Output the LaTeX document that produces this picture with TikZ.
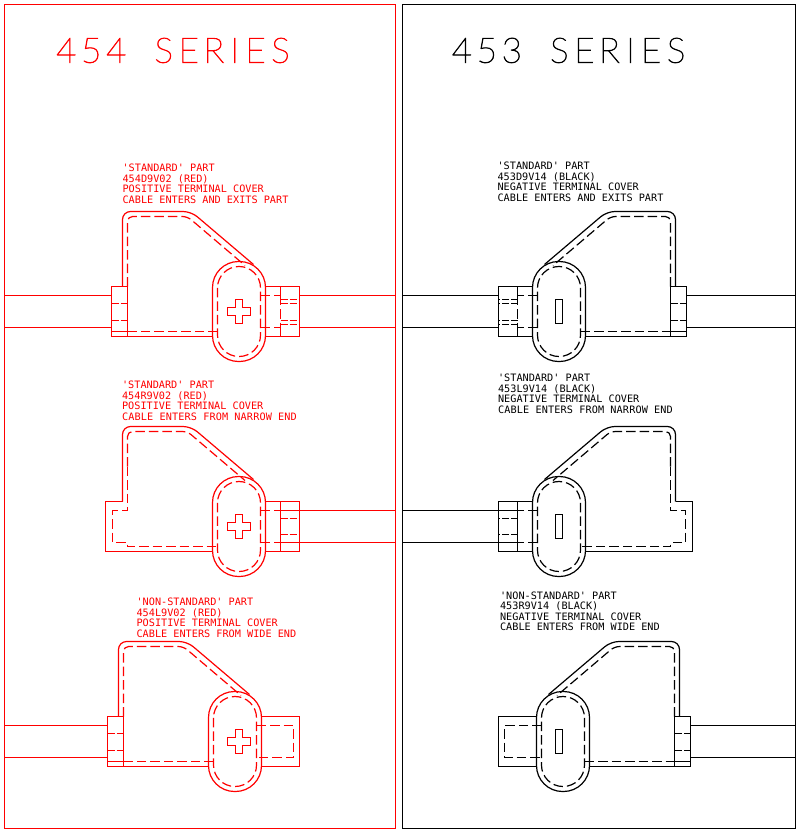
\documentclass[tikz,border=0pt]{standalone}
\usepackage{fontspec}
\newfontfamily\smallcad{DejaVu Sans Mono}
\newfontfamily\titlecad[FakeBold=2.2]{Lato Hairline}
\newcommand\TitleChar[1]{\makebox[25pt][l]{\makebox[18pt][c]{#1}}}
\newcommand\TitleNarrow[1]{\makebox[16.7pt][l]{\makebox[10pt][c]{#1}}}
\newcommand\WideLine[1]{{\addfontfeature{LetterSpace=1.2}#1}}
\newcommand\OvalAndBody{%
  \draw[rounded corners=26pt] (-26.5,-50) rectangle (26.5,50);
  \draw[hid,rounded corners=21.4pt] (-21.5,-45) rectangle (21.5,45);
  \draw[rounded corners=8pt] (-116.5,-25) -- (-116.5,-100) -- (-47.9,-100) -- (14.5,-47);
  \draw (-26.5,25) -- (-111.5,25);
}
% inner dashed outline of the body, down to the collar
\newcommand\InnerStraight{%
  \draw[hid,rounded corners=5pt] (-111.5,-25) -- (-111.5,-95) -- (-51.6,-95) -- (6,-46);
  \draw[hid] (-21.5,20) -- (-111.5,20);
}
\newcommand\LeftCollar{%
  \draw (-111.5,-25) rectangle (-127.5,25);
  \draw (-127.5,20) -- (-111.5,20);
  \draw[hidshort] (-127.5,-8) -- (-111.5,-8);
  \draw[hidshort] (-127.5,9) -- (-111.5,9);
}
\newcommand\LeftExtended{%
  \draw (-116.5,-25) -- (-133.5,-25) -- (-133.5,25) -- (-111.5,25);
  \draw[hid,rounded corners=5pt] (-111.5,-60) -- (-111.5,-95) -- (-51.6,-95) -- (6,-46);
  \draw[hid] (-111.5,-60) -- (-111.5,-16) -- (-126.5,-16) -- (-126.5,16) -- (-111.5,16) -- (-111.5,20) -- (-21.5,20);
}
\newcommand\RightCollarBoth{%
  \draw (26.5,-25) -- (60.5,-25) -- (60.5,25) -- (26.5,25);
  \draw (41.5,-25) -- (41.5,-16);
  \draw (41.5,16) -- (41.5,25);
  \draw[hid] (41.5,-16) -- (41.5,16);
  \draw[hid] (21.5,-16) -- (41.5,-16);
  \draw[hid] (21.5,16) -- (41.5,16);
  \draw[hidshort] (41.5,-12) -- (60.5,-12);
  \draw[hidshort] (41.5,-8) -- (60.5,-8);
  \draw[hidshort] (41.5,9) -- (60.5,9);
  \draw[hidshort] (41.5,13) -- (60.5,13);
}
\newcommand\RightCollarSingle{%
  \draw (26.5,-25) -- (60.5,-25) -- (60.5,25) -- (26.5,25);
  \draw (41.5,-25) -- (41.5,25);
  \draw[hid] (21.5,-16) -- (41.5,-16);
  \draw[hid] (21.5,16) -- (41.5,16);
  \draw (41.5,-16) -- (60.5,-16);
  \draw (41.5,16) -- (60.5,16);
  \draw[hidshort] (41.5,-8) -- (60.5,-8);
  \draw[hidshort] (41.5,8) -- (60.5,8);
}
\newcommand\RightBlank{%
  \draw (26.5,-25) -- (64.5,-25) -- (64.5,25) -- (26.5,25);
  \draw[hid] (21.5,-16) -- (58.5,-16) -- (58.5,16) -- (21.5,16);
}
\newcommand\CableFrom[2]{%
  \draw (#1,-16) -- (#2,-16);
  \draw (#1,16) -- (#2,16);
}
\newcommand\CrossMark[1]{%
  \draw[shift={(#1,0)}] (-3.5,-12) -- (3.5,-12) -- (3.5,-4) -- (11.5,-4) -- (11.5,4) -- (3.5,4) -- (3.5,12) -- (-3.5,12) -- (-3.5,4) -- (-11.5,4) -- (-11.5,-4) -- (-3.5,-4) -- cycle;
}
\newcommand\SlotMark[1]{%
  \draw[shift={(#1,0)}] (-3.5,-12) rectangle (3.5,12);
}
\begin{document}
\begin{tikzpicture}[x=1pt,y=-1pt,line width=1.2pt,line join=miter,
  hid/.style={dash pattern=on 9.5pt off 4pt},
  hidshort/.style={dash pattern=on 7pt off 2pt},
  lab/.style={anchor=north west,inner sep=0pt,align=left,
    font=\smallcad\fontsize{10.2}{10.5}\selectfont},
  ttl/.style={anchor=base west,inner sep=0pt,font=\titlecad\fontsize{35}{35}\selectfont}]
\useasboundingbox (0,0) rectangle (800,833);
\fill[white] (0,0) rectangle (800,833);

\begin{scope}[color=red]
  \draw (4.5,4.5) rectangle (395.5,828.5);
  \node[ttl,text=red] (t454) at (56.7,62.7) {\TitleChar{4}\TitleChar{5}\TitleChar{4}\makebox[22.5pt]{ }\TitleChar{S}\TitleChar{E}\TitleChar{R}\TitleNarrow{I}\TitleChar{E}\TitleChar{S}};
  \node[lab,text=red] (lab1) at (122,163.5) {'STANDARD' PART\\454D9V02 (RED)\\POSITIVE TERMINAL COVER\\CABLE ENTERS AND EXITS PART};
  \node[lab,text=red] (lab2) at (121.5,380.5) {'STANDARD' PART\\454R9V02 (RED)\\POSITIVE TERMINAL COVER\\\WideLine{CABLE ENTERS FROM NARROW END}};
  \node[lab,text=red] (lab3) at (136,597.5) {'NON-STANDARD' PART\\454L9V02 (RED)\\POSITIVE TERMINAL COVER\\CABLE ENTERS FROM WIDE END};
  \begin{scope}[shift={(239,311.5)}]
    \OvalAndBody \InnerStraight \LeftCollar \RightCollarBoth \CrossMark{0}
    \CableFrom{60.5}{156.5}\CableFrom{-127.5}{-234.5}
  \end{scope}
  \begin{scope}[shift={(239,526.5)}]
    \OvalAndBody \LeftExtended \RightCollarSingle \CrossMark{0}
    \CableFrom{60.5}{156.5}
  \end{scope}
  \begin{scope}[shift={(235,741.5)}]
    \OvalAndBody \InnerStraight \LeftCollar \RightBlank \CrossMark{4}
    \CableFrom{-127.5}{-230.5}
  \end{scope}
\end{scope}

\begin{scope}[color=black]
  \draw (402.5,4.5) rectangle (795.5,828.5);
  \node[ttl,text=black] (t453) at (452.3,62.7) {\TitleChar{4}\TitleChar{5}\TitleChar{3}\makebox[22.5pt]{ }\TitleChar{S}\TitleChar{E}\TitleChar{R}\TitleNarrow{I}\TitleChar{E}\TitleChar{S}};
  \node[lab,text=black] (lab4) at (497,161.5) {'STANDARD' PART\\453D9V14 (BLACK)\\NEGATIVE TERMINAL COVER\\CABLE ENTERS AND EXITS PART};
  \node[lab,text=black] (lab5) at (497.5,373.5) {'STANDARD' PART\\453L9V14 (BLACK)\\NEGATIVE TERMINAL COVER\\\WideLine{CABLE ENTERS FROM NARROW END}};
  \node[lab,text=black] (lab6) at (499.5,591) {'NON-STANDARD' PART\\453R9V14 (BLACK)\\NEGATIVE TERMINAL COVER\\CABLE ENTERS FROM WIDE END};
  \begin{scope}[shift={(559,311.5)},xscale=-1]
    \OvalAndBody \InnerStraight \LeftCollar \RightCollarBoth \SlotMark{0}
    \CableFrom{60.5}{156.5}\CableFrom{-127.5}{-236.5}
  \end{scope}
  \begin{scope}[shift={(559,526.5)},xscale=-1]
    \OvalAndBody \LeftExtended \RightCollarSingle \SlotMark{0}
    \CableFrom{60.5}{156.5}
  \end{scope}
  \begin{scope}[shift={(563,741.5)},xscale=-1]
    \OvalAndBody \InnerStraight \LeftCollar \RightBlank \SlotMark{4}
    \CableFrom{-127.5}{-232.5}
  \end{scope}
\end{scope}
\end{tikzpicture}
\end{document}
